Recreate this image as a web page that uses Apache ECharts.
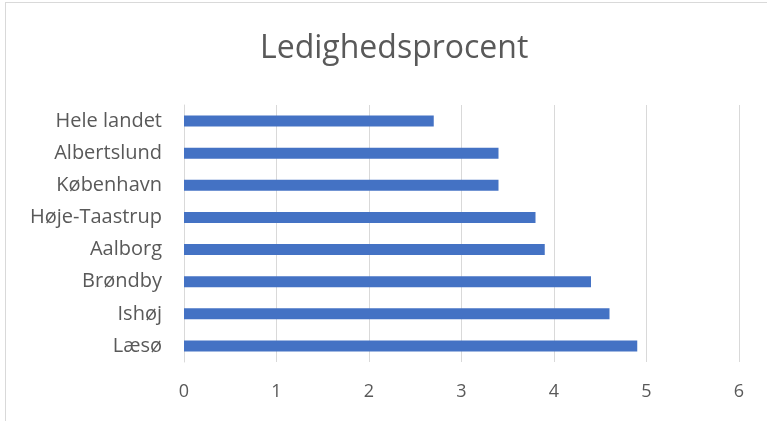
<!DOCTYPE html>
<html>
<head>
<meta charset="utf-8">
<script src="https://cdn.jsdelivr.net/npm/echarts@6/dist/echarts.min.js"></script>
<style>
  html, body { margin: 0; padding: 0; background: #fff; }
  #main { width: 767px; height: 421px; }
  #frame { position: absolute; left: 5px; top: 2px; width: 780px; height: 440px; border: 1px solid #d9d9d9; box-sizing: border-box; pointer-events: none; }
</style>
</head>
<body>
<div id="main"></div>
<div id="frame"></div>
<script>
// data
var kommuner = ['Hele landet', 'Albertslund', 'København', 'Høje-Taastrup', 'Aalborg', 'Brøndby', 'Ishøj', 'Læsø'];
var ledighed = [2.7, 3.4, 3.4, 3.8, 3.9, 4.4, 4.6, 4.9];
var xTicks = [0, 1, 2, 3, 4, 5, 6];

var myChart = echarts.init(document.getElementById('main'));
var textColor = '#595959';
var font = 'Open Sans';

var option = {
    animation: false,
    title: {
        text: 'Ledighedsprocent',
        left: 255,
        top: 28,
        textStyle: { color: textColor, fontSize: 32, fontWeight: 'normal', fontFamily: font }
    },
    grid: { left: 184, right: 28, top: 105, bottom: 59 },
    xAxis: {
        type: 'value',
        min: xTicks[0],
        max: xTicks[xTicks.length - 1],
        interval: 1,
        axisLine: { show: false },
        axisTick: { show: false },
        axisLabel: { color: textColor, fontSize: 18, fontFamily: font, margin: 21 },
        splitLine: { lineStyle: { color: '#d9d9d9', width: 1 } }
    },
    yAxis: {
        type: 'category',
        inverse: true,
        data: kommuner,
        axisLine: { show: true, lineStyle: { color: '#d9d9d9' } },
        axisTick: { show: false },
        axisLabel: { color: textColor, fontSize: 20, fontFamily: font, margin: 22 }
    },
    series: [{
        type: 'bar',
        data: ledighed,
        barWidth: 11,
        itemStyle: { color: '#4472C4' }
    }]
};
myChart.setOption(option);
</script>
</body>
</html>
